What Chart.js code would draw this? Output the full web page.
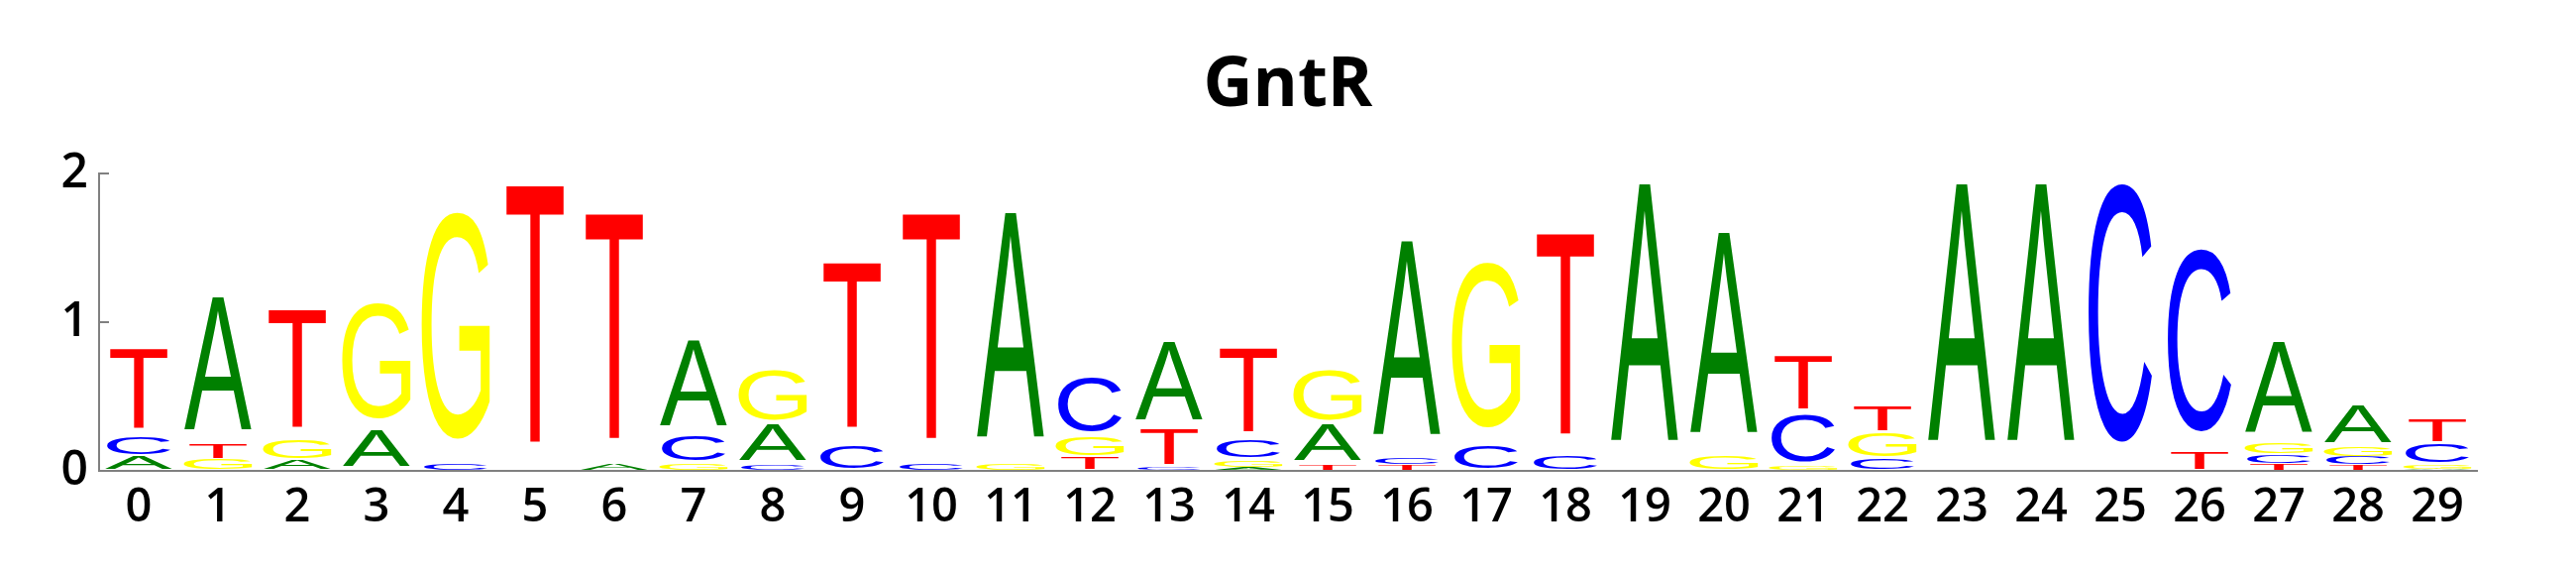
<!DOCTYPE html>
<html><head><meta charset="utf-8">
<script src="https://cdn.jsdelivr.net/npm/chart.js@4"></script>
<style>html,body{margin:0;padding:0;background:#fff;} canvas{display:block;}</style>
</head><body>
<canvas id="c" width="2600" height="575" style="width:2600px;height:575px"></canvas>
<script>
const positions = ['0','1','2','3','4','5','6','7','8','9','10','11','12','13','14','15','16','17','18','19','20','21','22','23','24','25','26','27','28','29'];
const A = [0.10, 0.993, 0.071, 0.271, 0, 0, 0.053, 0.638, 0.265, 0, 0, 1.685, 0, 0.58, 0.024, 0.265, 1.454, 0, 0, 1.931, 1.502, 0, 0, 1.931, 1.931, 0, 0, 0.682, 0.272, 0.013];
const C = [0.13, 0, 0, 0, 0.047, 0, 0, 0.189, 0.042, 0.169, 0.053, 0, 0.40, 0.024, 0.126, 0, 0.051, 0.169, 0.102, 0, 0, 0.355, 0.08, 0, 0, 1.931, 1.36, 0.062, 0.055, 0.14];
const G = [0, 0.076, 0.131, 0.86, 1.691, 0, 0, 0.053, 0.373, 0, 0, 0.053, 0.14, 0, 0.052, 0.373, 0, 1.229, 0, 0, 0.102, 0.027, 0.173, 0, 0, 0, 0, 0.078, 0.071, 0.029];
const T = [0.59, 0.10, 0.882, 0, 0, 1.931, 1.685, 0, 0, 1.229, 1.685, 0, 0.091, 0.26, 0.618, 0.042, 0.042, 0, 1.502, 0, 0, 0.394, 0.183, 0, 0, 0, 0.131, 0.047, 0.038, 0.16];
const yTicks = [0, 1, 2];
const titleText = 'GntR';

const letterColors = {A:'#008000', C:'#0000FF', G:'#FFFF00', T:'#FF0000'};
const letterWidths = {A:0.85, C:0.80, G:0.86, T:0.725};
const GLYPH_FONT = '200px "Liberation Sans"';

const heights = {A, C, G, T};
const ranked = positions.map((p, i) => ['A','C','G','T'].map(L => ({L, h: heights[L][i]})).sort((a, b) => a.h - b.h));
const datasets = [0,1,2,3].map(r => ({
  label: 'rank' + r,
  data: ranked.map(col => col[r].h),
  letters: ranked.map(col => col[r].L),
  backgroundColor: 'rgba(0,0,0,0)',
  borderWidth: 0,
  barPercentage: 1,
  categoryPercentage: 1
}));

const metricsCache = {};
function glyphMetrics(ctx, L) {
  if (metricsCache[L]) return metricsCache[L];
  ctx.save();
  ctx.font = GLYPH_FONT;
  const m = ctx.measureText(L);
  ctx.restore();
  metricsCache[L] = {l: m.actualBoundingBoxLeft, r: m.actualBoundingBoxRight, a: m.actualBoundingBoxAscent, d: m.actualBoundingBoxDescent};
  return metricsCache[L];
}

const logoPlugin = {
  id: 'logo',
  afterDatasetsDraw(chart) {
    const ctx = chart.ctx;
    chart.data.datasets.forEach((ds, di) => {
      const meta = chart.getDatasetMeta(di);
      meta.data.forEach((bar, i) => {
        const L = ds.letters[i];
        const p = bar.getProps(['x','y','base','width'], true);
        const h = p.base - p.y;
        if (h < 0.8) return;
        const gm = glyphMetrics(ctx, L);
        const w = p.width * letterWidths[L];
        const gTop = p.y, gBot = p.base - 0.1 * h;
        const inkW = gm.l + gm.r, inkH = gm.a + gm.d;
        ctx.save();
        ctx.translate(p.x - w / 2, gTop);
        ctx.scale(w / inkW, (gBot - gTop) / inkH);
        ctx.font = GLYPH_FONT;
        ctx.textAlign = 'left';
        ctx.textBaseline = 'alphabetic';
        ctx.fillStyle = letterColors[L];
        ctx.fillText(L, gm.l, gm.a);
        ctx.restore();
      });
    });
  },
  afterDraw(chart) {
    const ctx = chart.ctx, ys = chart.scales.y;
    ctx.save();
    ctx.strokeStyle = '#808080';
    ctx.lineWidth = 2;
    yTicks.forEach(v => {
      const py = Math.round(ys.getPixelForValue(v));
      ctx.beginPath();
      ctx.moveTo(ys.right, py);
      ctx.lineTo(ys.right + 10, py);
      ctx.stroke();
    });
    ctx.restore();
  }
};

new Chart(document.getElementById('c'), {
  type: 'bar',
  data: {labels: positions, datasets},
  options: {
    responsive: false,
    devicePixelRatio: 1,
    animation: false,
    layout: {padding: {left: 50, right: 50, top: 0, bottom: 0}},
    plugins: {
      legend: {display: false},
      tooltip: {enabled: false},
      title: {
        display: true, text: titleText, color: '#000',
        font: {family: '"Open Sans"', size: 69, weight: 'bold'},
        padding: {top: 46, bottom: 46.2}
      }
    },
    scales: {
      x: {
        stacked: true, offset: true,
        grid: {display: true, drawOnChartArea: false, drawTicks: false},
        border: {display: true, color: '#808080', width: 2},
        ticks: {font: {family: '"Open Sans"', size: 47, weight: '600'}, color: '#000', padding: 9, maxRotation: 0, autoSkip: false},
        afterFit(s) { s.height = 100; }
      },
      y: {
        stacked: true, min: 0, max: 2,
        grid: {display: true, drawOnChartArea: false, drawTicks: false},
        border: {display: true, color: '#808080', width: 2},
        ticks: {stepSize: 1, font: {family: '"Open Sans"', size: 48, weight: '600'}, color: '#000', padding: 11},
        afterFit(s) { s.width = 50; }
      },
      yRight: {
        type: 'linear', position: 'right', min: 0, max: 2,
        grid: {display: false}, border: {display: false},
        ticks: {display: false},
        afterFit(s) { s.width = 50; }
      }
    }
  },
  plugins: [logoPlugin]
});
</script>
</body></html>
